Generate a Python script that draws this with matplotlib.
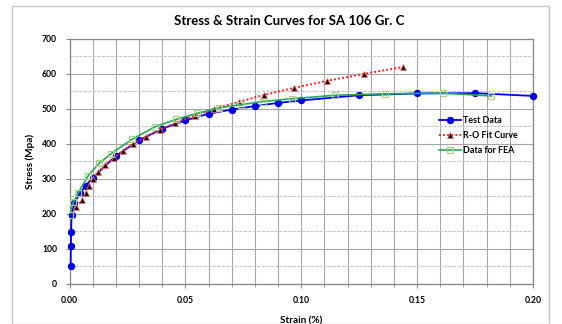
"""Stress-strain curves for SA 106 Gr. C, Excel-style chart."""

import matplotlib
matplotlib.use("Agg")
import matplotlib.pyplot as plt  # noqa: E402
from matplotlib.patches import Rectangle  # noqa: E402
from matplotlib.ticker import MultipleLocator, FormatStrFormatter  # noqa: E402

# -- Data --
test_strain = [0.0005, 0.0006, 0.0007, 0.0009, 0.002, 0.0045, 0.007, 0.010,
               0.020, 0.030, 0.040, 0.050, 0.060, 0.070, 0.080, 0.090, 0.100,
               0.125, 0.150, 0.175, 0.200]
test_stress = [50, 107, 148, 195, 230, 258, 280, 303,
               365, 410, 443, 467, 486, 498, 508, 517, 524,
               539, 544, 545, 537]

ro_strain = [0.003, 0.0055, 0.007, 0.0085, 0.010, 0.0125, 0.0155, 0.019,
             0.023, 0.0275, 0.033, 0.039, 0.0455, 0.054, 0.0625, 0.073,
             0.084, 0.097, 0.111, 0.127, 0.144]
ro_stress = [220, 240, 260, 280, 300, 320, 340, 360,
             380, 400, 420, 440, 460, 480, 500, 520,
             540, 560, 580, 600, 620]

fea_strain = [0.0, 0.0016, 0.0038, 0.008, 0.0128, 0.018, 0.027, 0.0367,
              0.046, 0.055, 0.0646, 0.074, 0.0835, 0.096, 0.1147, 0.136,
              0.161, 0.182]
fea_stress = [196, 232, 260, 308, 344, 372, 413, 448,
              470, 487, 503, 512, 521, 529, 539, 543,
              545, 537]

series_labels = ["Test Data", "R-O Fit Curve", "Data for FEA"]

plt.rcParams["font.family"] = ["Lato", "DejaVu Sans"]

fig = plt.figure(figsize=(5.62, 3.24), dpi=100)
fig.patch.set_facecolor("white")

# outer chart frame
fig.patches.append(Rectangle((12 / 562, 0.0), 537 / 562, 318 / 324,
                             transform=fig.transFigure, fill=False,
                             edgecolor="#c8c8c8", linewidth=1.0))

ax = fig.add_axes([69.5 / 562, 40.5 / 324, 463.5 / 562, 244.5 / 324])

ax.set_xlim(0, 0.20)
ax.set_ylim(0, 700)
ax.xaxis.set_major_locator(MultipleLocator(0.05))
ax.xaxis.set_minor_locator(MultipleLocator(0.01))
ax.yaxis.set_major_locator(MultipleLocator(100))
ax.yaxis.set_minor_locator(MultipleLocator(50))
ax.xaxis.set_major_formatter(FormatStrFormatter("%.2f"))

ax.grid(which="major", axis="both", color="#a6a6a6", linewidth=0.8)
ax.grid(which="minor", axis="x", color="#a6a6a6", linewidth=0.8)
ax.grid(which="minor", axis="y", color="#c8c8c8", linewidth=0.8,
        linestyle=(0, (3, 1)))
ax.set_axisbelow(True)

for side in ("left", "bottom", "top", "right"):
    ax.spines[side].set_color("#868686")
    ax.spines[side].set_linewidth(0.9)

ax.tick_params(which="both", direction="out", color="#868686",
               labelsize=6.2, pad=6)
ax.tick_params(which="major", length=3)
ax.tick_params(which="minor", length=2)
ax.tick_params(axis="y", which="minor", length=0)
for lbl in ax.get_xticklabels() + ax.get_yticklabels():
    lbl.set_fontweight("bold")

ax.plot(test_strain, test_stress, color="#0000ff", linewidth=1.3,
        marker="o", markersize=4.3, markerfacecolor="#0000ff",
        markeredgecolor="#0000cc", label=series_labels[0], zorder=3,
        clip_on=False)
ax.plot(ro_strain, ro_stress, color="#ff2020", linewidth=1.4,
        linestyle=(0, (1, 1.1)), marker="^", markersize=4.3,
        markerfacecolor="#1a0000", markeredgecolor="#ff7070",
        markeredgewidth=0.5, label=series_labels[1], zorder=4)
ax.plot(fea_strain, fea_stress, color="#22aa55", linewidth=1.2,
        marker="s", markersize=4.5, markerfacecolor="none",
        markeredgecolor="#a8d080", markeredgewidth=0.9,
        label=series_labels[2], zorder=5)

ax.set_xlabel("Strain (%)", fontsize=7.2, fontweight="bold", labelpad=8)
ax.set_ylabel("Stress (Mpa)", fontsize=7.2, fontweight="bold", labelpad=5)

fig.text(289 / 562, 1 - 21 / 324, "Stress & Strain Curves for SA 106 Gr. C",
         ha="center", va="center", fontsize=9.5, fontweight="bold")

leg = ax.legend(loc="upper left", bbox_to_anchor=(0.79, 0.7), frameon=False,
                fontsize=6.4, handlelength=2.4, handletextpad=0.3,
                labelspacing=0.7, borderaxespad=0)
for t in leg.get_texts():
    t.set_fontweight("bold")

fig.savefig("out.png", dpi=100)
